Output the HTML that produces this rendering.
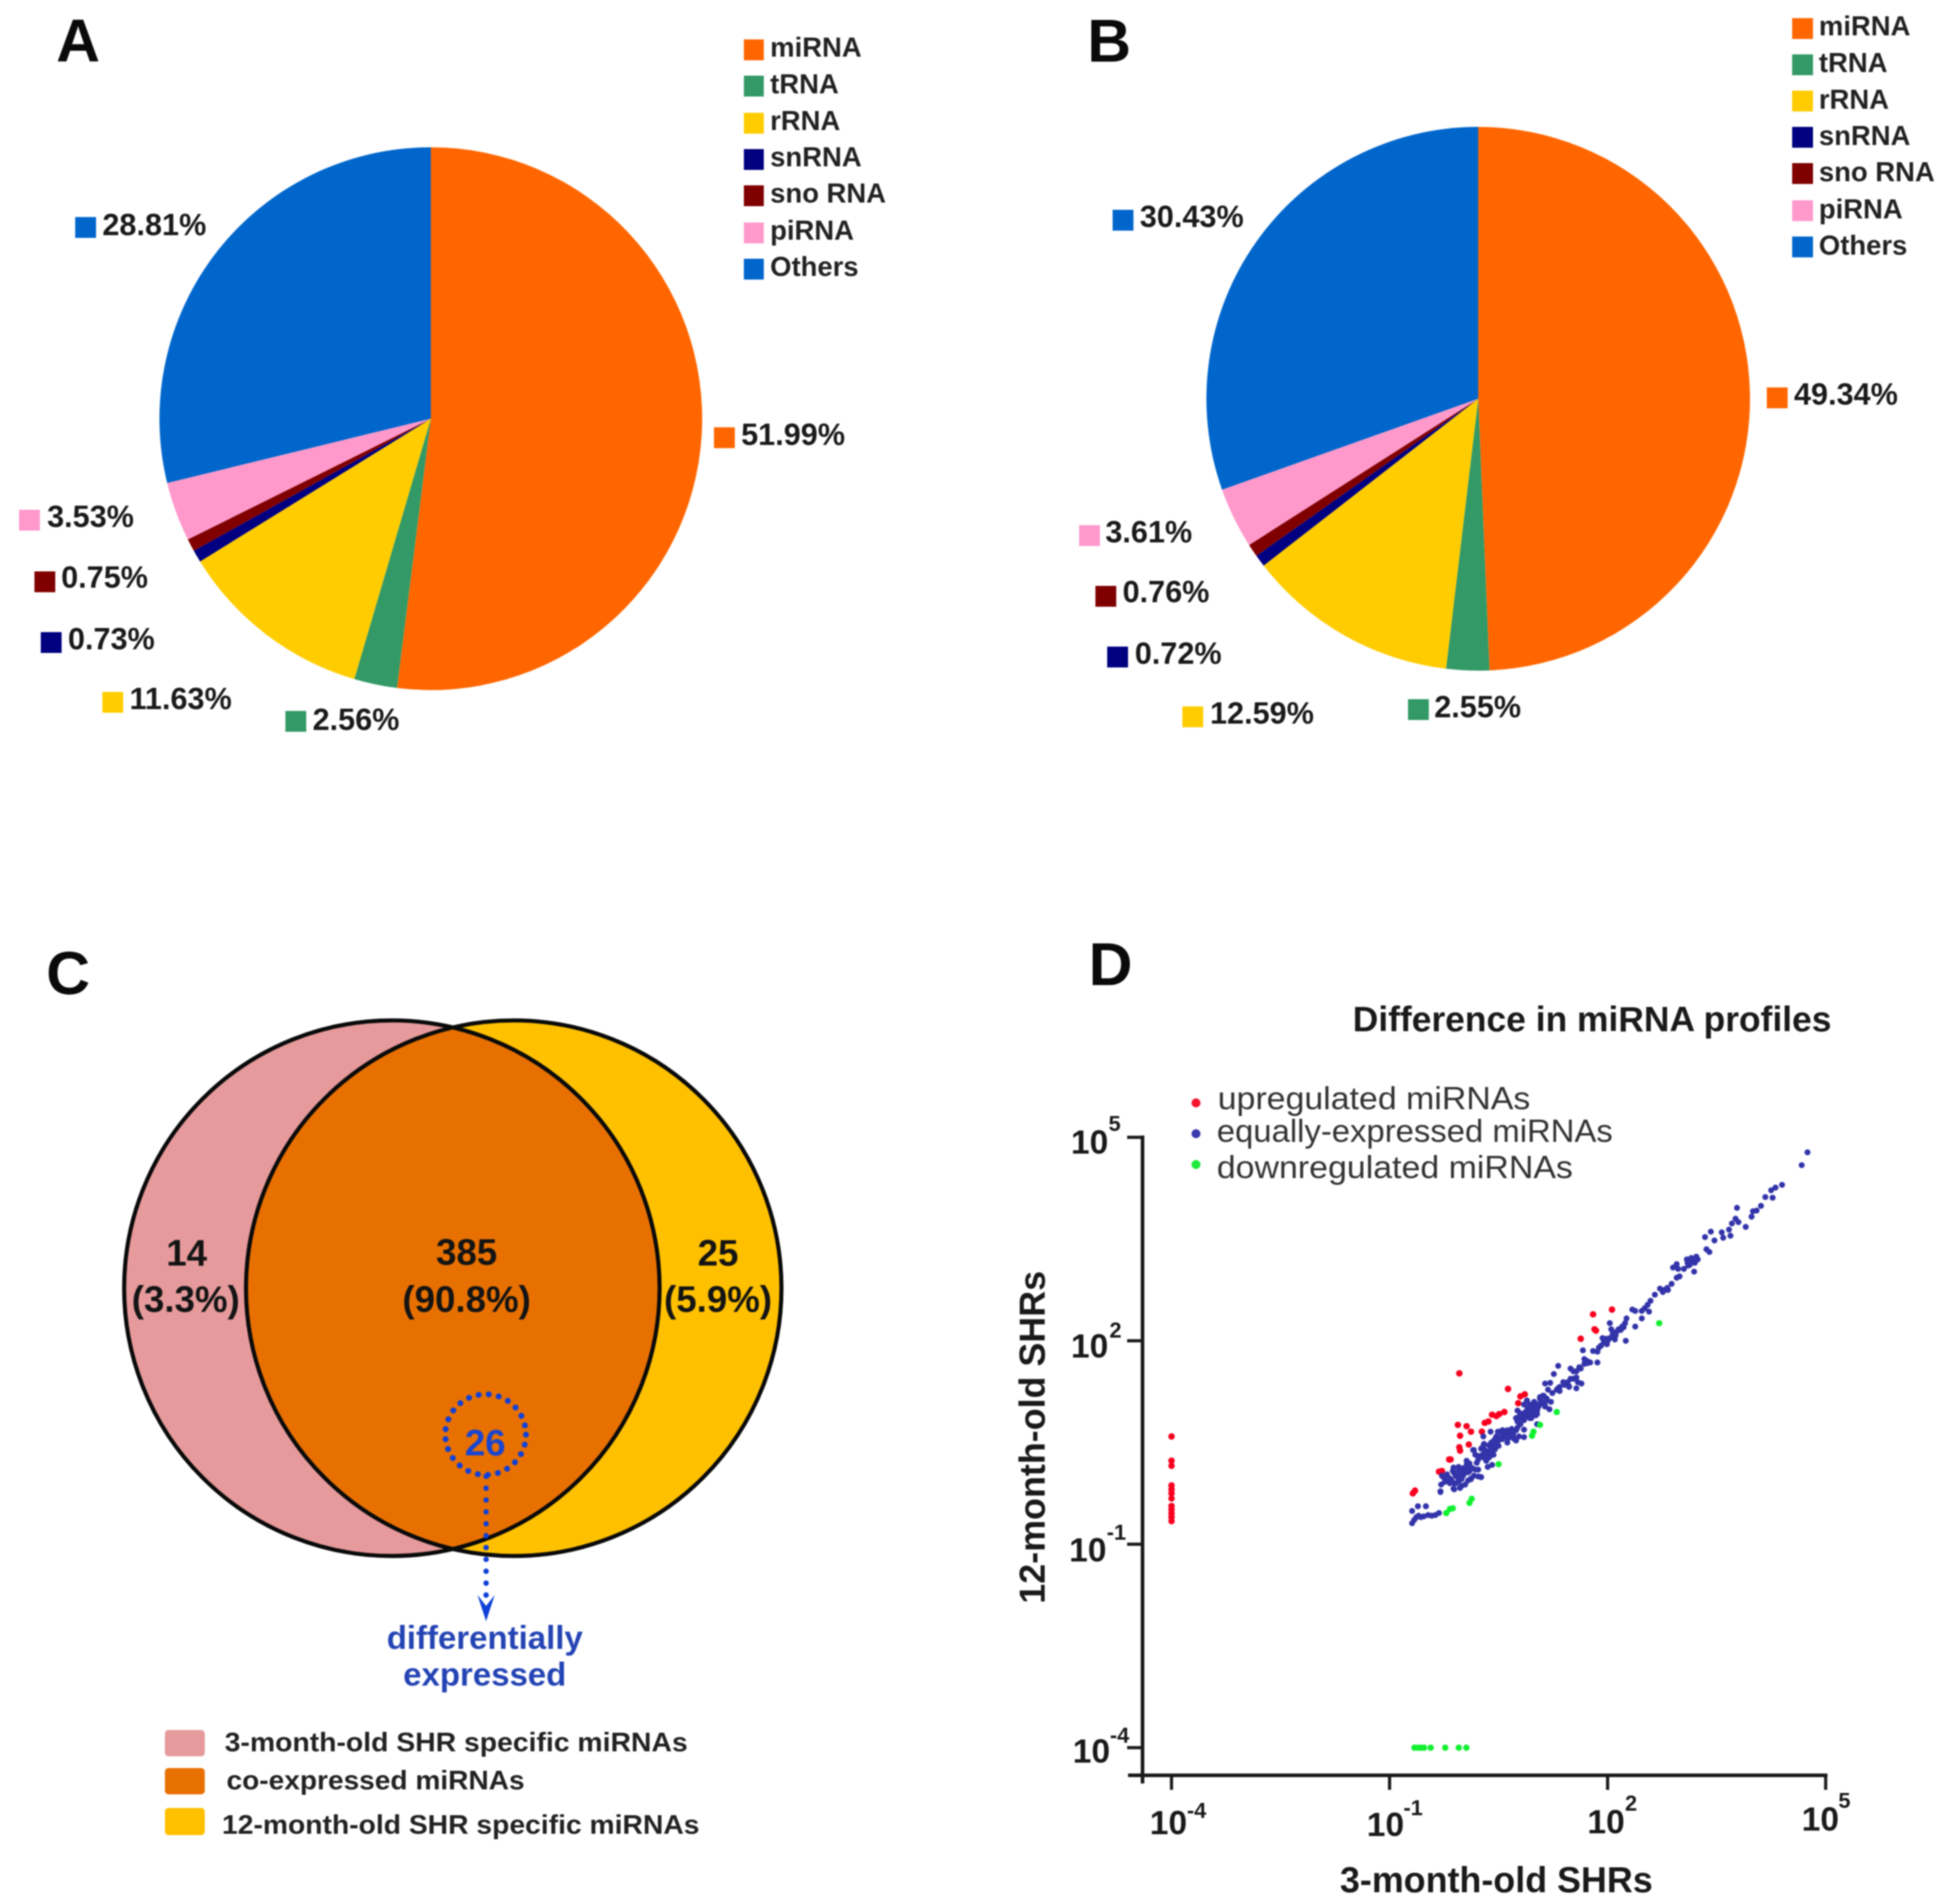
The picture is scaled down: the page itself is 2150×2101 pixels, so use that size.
<!DOCTYPE html>
<html lang="en">
<head>
<meta charset="utf-8">
<title>Small RNA distribution and miRNA profiles</title>
<style>
html,body{margin:0;padding:0;background:#fff;width:2150px;height:2101px;overflow:hidden}
svg{display:block;font-family:"Liberation Sans",sans-serif;filter:blur(0.9px)}
.letter{font-size:67px;font-weight:bold;fill:#0a0a0a}
.leg{font-size:30.3px;font-weight:bold;fill:#222}
.pct{font-size:33.8px;font-weight:bold;fill:#1a1a1a}
.venn{font-size:40.5px;font-weight:bold;fill:#141414;text-anchor:middle}
.vleg{font-size:30px;font-weight:bold;fill:#222}
.blue{font-size:36.4px;font-weight:bold;fill:#2444b4;text-anchor:middle}
.dleg{font-size:35px;fill:#333}
.atitle{font-size:39.6px;font-weight:bold;fill:#1a1a1a}
.tick{font-size:37px;font-weight:bold;fill:#1a1a1a}
.sup{font-size:24px;font-weight:bold;fill:#1a1a1a}
</style>
</head>
<body>
<svg id="figure" xmlns="http://www.w3.org/2000/svg" width="2150" height="2101" viewBox="0 0 2150 2101">
<rect width="2150" height="2101" fill="#fff"/>

<!-- Panel A -->
<text class="letter" x="62" y="68">A</text>
<g id="pieA"></g>
<g>
<rect x="821" y="43.5" width="22" height="23" fill="#FF6600"/><text class="leg" x="850" y="62.5">miRNA</text>
<rect x="821" y="83.5" width="22" height="23" fill="#339966"/><text class="leg" x="850" y="103">tRNA</text>
<rect x="821" y="124.5" width="22" height="23" fill="#FFCC00"/><text class="leg" x="850" y="143.5">rRNA</text>
<rect x="821" y="164.5" width="22" height="23" fill="#000080"/><text class="leg" x="850" y="183.5">snRNA</text>
<rect x="821" y="204.5" width="22" height="23" fill="#800000"/><text class="leg" x="850" y="223.5">sno RNA</text>
<rect x="821" y="245.5" width="22" height="23" fill="#FF99CC"/><text class="leg" x="850" y="264.5">piRNA</text>
<rect x="821" y="285.5" width="22" height="23" fill="#0066CC"/><text class="leg" x="850" y="304.5">Others</text>
</g>
<g>
<rect x="83" y="239.5" width="23" height="23" fill="#0066CC"/><text class="pct" x="113" y="259.5">28.81%</text>
<rect x="788" y="471.5" width="23" height="23" fill="#FF6600"/><text class="pct" x="818" y="491">51.99%</text>
<rect x="21" y="562.5" width="23" height="23" fill="#FF99CC"/><text class="pct" x="52" y="581.5">3.53%</text>
<rect x="38" y="630.5" width="23" height="23" fill="#800000"/><text class="pct" x="67.5" y="648.5">0.75%</text>
<rect x="45" y="697.5" width="23" height="23" fill="#000080"/><text class="pct" x="75" y="716.5">0.73%</text>
<rect x="113" y="763.5" width="23" height="23" fill="#FFCC00"/><text class="pct" x="143" y="782.5">11.63%</text>
<rect x="315" y="784.5" width="23" height="23" fill="#339966"/><text class="pct" x="345" y="805.5">2.56%</text>
</g>

<!-- Panel B -->
<text class="letter" x="1200" y="68">B</text>
<g id="pieB"></g>
<g>
<rect x="1978" y="20" width="23" height="23" fill="#FF6600"/><text class="leg" x="2007.5" y="39">miRNA</text>
<rect x="1978" y="60" width="23" height="23" fill="#339966"/><text class="leg" x="2007.5" y="79.5">tRNA</text>
<rect x="1978" y="100" width="23" height="23" fill="#FFCC00"/><text class="leg" x="2007.5" y="120">rRNA</text>
<rect x="1978" y="140" width="23" height="23" fill="#000080"/><text class="leg" x="2007.5" y="160">snRNA</text>
<rect x="1978" y="180" width="23" height="23" fill="#800000"/><text class="leg" x="2007.5" y="200">sno RNA</text>
<rect x="1978" y="221" width="23" height="23" fill="#FF99CC"/><text class="leg" x="2007.5" y="241">piRNA</text>
<rect x="1978" y="261" width="23" height="23" fill="#0066CC"/><text class="leg" x="2007.5" y="281">Others</text>
</g>
<g>
<rect x="1228" y="231.5" width="23" height="23" fill="#0066CC"/><text class="pct" x="1258" y="250.5">30.43%</text>
<rect x="1950" y="427.5" width="23" height="23" fill="#FF6600"/><text class="pct" x="1980" y="446.5">49.34%</text>
<rect x="1191" y="579.5" width="23" height="23" fill="#FF99CC"/><text class="pct" x="1220" y="598.5">3.61%</text>
<rect x="1209" y="646.5" width="23" height="23" fill="#800000"/><text class="pct" x="1239" y="664.5">0.76%</text>
<rect x="1222" y="713.5" width="23" height="23" fill="#000080"/><text class="pct" x="1252.5" y="732.5">0.72%</text>
<rect x="1305" y="779.5" width="23" height="23" fill="#FFCC00"/><text class="pct" x="1335.5" y="798.5">12.59%</text>
<rect x="1554" y="771.5" width="23" height="23" fill="#339966"/><text class="pct" x="1583" y="791.5">2.55%</text>
</g>

<!-- Panel C -->
<text class="letter" x="51" y="1097">C</text>
<defs>
<clipPath id="clipLeft"><circle cx="432.5" cy="1421.5" r="295.5"/></clipPath>
</defs>
<g>
<circle cx="432.5" cy="1421.5" r="295.5" fill="#E69A9B"/>
<circle cx="567" cy="1421.5" r="295.5" fill="#FFC000"/>
<circle cx="567" cy="1421.5" r="295.5" fill="#E87000" clip-path="url(#clipLeft)"/>
<circle cx="432.5" cy="1421.5" r="295.5" fill="none" stroke="#0a0a0a" stroke-width="4.5"/>
<circle cx="567" cy="1421.5" r="295.5" fill="none" stroke="#0a0a0a" stroke-width="4.5"/>
<text class="venn" x="206" y="1396.5">14</text>
<text class="venn" x="205" y="1447.5">(3.3%)</text>
<text class="venn" x="515" y="1395.5">385</text>
<text class="venn" x="515" y="1447.5">(90.8%)</text>
<text class="venn" x="792.5" y="1396.5">25</text>
<text class="venn" x="792.5" y="1447.5">(5.9%)</text>
<circle cx="536" cy="1583" r="44.5" fill="none" stroke="#1040d8" stroke-width="6.5" stroke-linecap="round" stroke-dasharray="0.1 11.1"/>
<text class="venn" x="535.5" y="1606" style="fill:#1a45d0">26</text>
<line x1="536.5" y1="1629" x2="536.5" y2="1764" stroke="#1040d8" stroke-width="6" stroke-linecap="round" stroke-dasharray="0.1 13"/>
<path d="M527,1760 L536.5,1789 L546,1760 L536.5,1772 Z" fill="#1040d8"/>
<text class="blue" x="535" y="1819.5">differentially</text>
<text class="blue" x="535" y="1860">expressed</text>
</g>
<g>
<rect x="182" y="1909" width="44" height="29" rx="4" fill="#E69A9B"/>
<text class="vleg" x="248" y="1932.5" textLength="511" lengthAdjust="spacingAndGlyphs">3-month-old SHR specific miRNAs</text>
<rect x="182" y="1951" width="44" height="29" rx="4" fill="#E87000"/>
<text class="vleg" x="250" y="1974.5" textLength="329" lengthAdjust="spacingAndGlyphs">co-expressed miRNAs</text>
<rect x="182" y="1995" width="44" height="30" rx="4" fill="#FFC000"/>
<text class="vleg" x="245" y="2023.5" textLength="527" lengthAdjust="spacingAndGlyphs">12-month-old SHR specific miRNAs</text>
</g>

<!-- Panel D -->
<text class="letter" x="1201.5" y="1087">D</text>
<text x="1493" y="1138" font-size="39.1" font-weight="bold" fill="#1a1a1a">Difference in miRNA profiles</text>
<g>
<circle cx="1320" cy="1217" r="5" fill="#f5142d"/>
<text class="dleg" x="1344" y="1224" textLength="345" lengthAdjust="spacingAndGlyphs">upregulated miRNAs</text>
<circle cx="1320" cy="1251" r="5" fill="#3a3ab0"/>
<text class="dleg" x="1343" y="1260" textLength="437" lengthAdjust="spacingAndGlyphs">equally-expressed miRNAs</text>
<circle cx="1320" cy="1285" r="5" fill="#1ee83c"/>
<text class="dleg" x="1343" y="1300" textLength="393" lengthAdjust="spacingAndGlyphs">downregulated miRNAs</text>
</g>
<g id="axes"></g>
<g>
<text class="tick" x="1182" y="1273">10</text><text class="sup" x="1223.5" y="1248">5</text>
<text class="tick" x="1182" y="1498">10</text><text class="sup" x="1224.5" y="1476">2</text>
<text class="tick" x="1180" y="1723">10</text><text class="sup" x="1221.5" y="1699">-1</text>
<text class="tick" x="1184" y="1945">10</text><text class="sup" x="1225" y="1923">-4</text>
</g>
<g>
<text class="tick" x="1269" y="2024">10</text><text class="sup" x="1310" y="2006">-4</text>
<text class="tick" x="1508.5" y="2026">10</text><text class="sup" x="1549" y="2003">-1</text>
<text class="tick" x="1752" y="2023">10</text><text class="sup" x="1793.5" y="1998">2</text>
<text class="tick" x="1988.5" y="2020">10</text><text class="sup" x="2029" y="1995">5</text>
</g>
<g id="points"></g>
<text class="atitle" transform="translate(1153,1586) rotate(-90)" text-anchor="middle">12-month-old SHRs</text>
<text class="atitle" x="1651.5" y="2088" text-anchor="middle">3-month-old SHRs</text>
</svg>

<script>
// Pie data (percent)
const pieCategories = ['miRNA','tRNA','rRNA','snRNA','sno RNA','piRNA','Others'];
const pieAValues = [51.99,2.56,11.63,0.73,0.75,3.53,28.81];
const pieBValues = [49.34,2.55,12.59,0.72,0.76,3.61,30.43];
const pieColors = ['#FF6600','#339966','#FFCC00','#000080','#800000','#FF99CC','#0066CC'];

// Scatter tick exponents
const xTickExponents = [-4,-1,2,5];
const yTickExponents = [5,2,-1,-4];

// Scatter data, log10 of normalised expression
const upX = [-4,-4,-4,-4,-4,-4,-4,-4,-4,-4,-4,-4,-.68,-.65,-.32,-.28,-.18,-.16,-.06,.06,.12,-.03,.09,-.04,-.03,-.04,.27,.31,.36,.41,.47,.51,.58,.63,.8,.86,.77,1.63,1.8,2.06,1.82,1.84];
const upY = [.589,.232,.156,-.133,-.191,-.249,-.325,-.436,-.49,-.548,-.601,-.659,-.25,-.21,.07,.08,.25,.25,.76,.74,.66,.6,.47,.43,.38,1.52,.66,.79,.81,.91,.89,.92,.95,1.29,1.18,1.21,1.08,2.03,2.39,2.46,2.17,2.15];
const downX = [2.71,1.3,1.07,.98,.96,.5,.13,.1,-.13,-.17,-.22,-.658,-.608,-.567,-.525,-.434,-.234,-.047,.057];
const downY = [2.26,.95,.76,.66,.6,.18,-.33,-.39,-.47,-.48,-.54,-4,-4,-4,-4,-4,-4,-4,-4];
const equalX = [-.69,-.66,-.63,-.6,-.57,-.53,-.47,-.42,-.37,-.32,-.69,-.61,-.5,
-.3,-.29,-.24,-.28,-.21,-.17,-.12,-.09,-.07,-.11,-.12,-.05,-.03,-.01,.04,-.03,.06,.06,.04,.1,.14,.16,.12,.22,.26,.02,.08,.15,.18,.24,.29,.22,.35,.41,.33,.37,.41,.43,.35,.31,.29,.39,.45,.49,.43,.39,.29,.53,.47,.58,.62,.56,.62,.66,.7,.74,.85,.85,.74,.68,
-.2,-.15,-.05,0,.1,.2,.3,.36,.45,.5,.55,.6,.7,.55,.4,
.76,.8,.85,.89,.93,.97,1.01,.91,.95,1.01,1.05,1.1,1.14,1.07,1.12,1.16,1.2,1.03,.74,.76,.85,.89,.93,.99,
.8,.87,.95,1.03,1.08,1,.9,1.12,
1.18,1.24,1.3,1.34,1.39,1.45,1.49,1.53,1.57,1.61,1.68,1.72,1.68,1.76,1.86,1.57,1.64,1.57,1.47,1.34,1.14,1.21,1.26,1.32,1.66,1.49,
1.8,1.86,1.91,1.95,1.99,2.03,2.07,1.93,2.11,2.15,2.2,2.24,2.26,2.03,2.05,2.25,2.38,2.34,2.38,2.47,2.47,2.57,2.51,
2.55,2.59,2.65,2.72,2.78,2.83,2.88,2.95,2.99,2.9,2.97,2.95,3.05,3.11,3.09,3.15,3.22,3.24,3.2,3.19,
3.34,3.42,3.47,3.36,3.4,3.57,3.59,3.67,3.69,3.71,3.76,3.78,3.8,3.9,3.98,4,4.05,4.11,4.17,4.27,4.25,4.31,4.4,4.67,4.75,
-.13,-.09,-.05,.01,.06,.1,.14,.18,.01,.08,-.05,-.11,-.01,-.17,-.21,-.26,-.3,-.11,-.03,.08,.12,.26,.22,
.16,.22,.28,.33,.37,.41,.43,.26,.3,.37,.45,.49,.55,.62,.68,.57,.64,.72,.78,.76,.8,.82,.89,.93,.97,1.01,1.05,1.09,1.14,1.03,.95,.87,.78,1.11,1.16,1.22,1.07,1.32,1.41,1.47,1.53,1.59,1.63,1.72,
2,2.08,2.12,2.18,2.22,1.88,1.98,2.1,3.1,3.17,3.13,2.82,2.76];
const equalY = [-.69,-.64,-.6,-.58,-.6,-.59,-.57,-.58,-.57,-.54,-.51,-.44,-.44,
-.23,-.12,-.08,.01,-.01,-.1,-.18,-.1,-.01,.05,.13,.14,.05,-.04,-.12,-.16,.14,.23,.08,.08,.12,.01,-.04,0,-.01,.03,.17,.39,.32,.3,.28,.25,.14,.17,.23,.28,.32,.39,.34,.39,.45,.43,.45,.52,.52,.66,.59,.57,.59,.61,.5,.68,.68,.63,.57,.53,.58,.69,.68,.7,
-.06,-.05,-.07,.1,.18,.2,.33,.36,.4,.45,.55,.58,.62,.62,.5,
.81,.86,.83,.88,.86,.92,.9,.94,.99,1.01,1.03,1.08,1.03,1.15,1.19,1.12,.99,.77,.86,.97,1.06,1.12,1.06,1.1,
.93,.95,.93,.97,1.12,1.05,1,1.07,
1.28,1.23,1.28,1.32,1.39,1.39,1.44,1.55,1.55,1.61,1.66,1.7,1.73,1.68,1.68,1.46,1.37,1.3,1.32,1.26,1.37,1.38,1.51,1.63,1.86,1.59,
1.85,1.84,1.93,1.99,1.95,2.04,2.1,2.04,2.08,2.17,2.21,2.26,2.33,2.26,2.17,2,2.21,2.46,2.44,2.44,2.33,2.43,2.48,
2.53,2.59,2.68,2.77,2.75,2.75,2.84,2.93,2.95,3.08,3.06,3.13,3.06,3.11,3.2,3.22,3.24,3.2,3.15,3.02,
3.53,3.61,3.48,3.35,3.31,3.6,3.52,3.64,3.55,3.73,3.8,3.96,3.75,3.68,3.83,3.91,3.92,3.99,4.12,4.11,4.22,4.26,4.3,4.59,4.78,
.08,.01,.08,.12,.17,.19,.12,.1,.01,.06,-.03,-.1,-.14,-.03,.03,-.01,-.22,-.19,-.17,-.06,-.03,-.01,.1,
.39,.3,.32,.37,.35,.41,.32,.41,.48,.46,.55,.66,.68,.66,.68,.59,.57,.55,.59,.72,.77,.86,.88,.92,.97,1.01,1.06,1.08,1.04,.92,.86,.92,.88,1.19,1.15,1.1,1.17,1.3,1.35,1.33,1.44,1.39,1.59,1.67,
2,2.05,2.13,2.16,2.2,1.9,2.03,2.02,3.15,3.18,3.12,2.78,2.72];

const NS = 'http://www.w3.org/2000/svg';
function make(tag, attrs, parent){
  const el = document.createElementNS(NS, tag);
  for (const k in attrs) el.setAttribute(k, attrs[k]);
  parent.appendChild(el);
  return el;
}

// Pies: clockwise from 12 o'clock
function drawPie(group, values, cx, cy, r){
  const total = values.reduce((a,b)=>a+b,0);
  let start = 0;
  values.forEach((v,i)=>{
    const end = start + v/total;
    const a0 = start*2*Math.PI - Math.PI/2;
    const a1 = end*2*Math.PI - Math.PI/2;
    const large = (end-start) > 0.5 ? 1 : 0;
    const d = 'M'+cx+','+cy+' L'+(cx+r*Math.cos(a0))+','+(cy+r*Math.sin(a0))+
      ' A'+r+','+r+' 0 '+large+' 1 '+(cx+r*Math.cos(a1))+','+(cy+r*Math.sin(a1))+' Z';
    const el = make('path',{d:d,fill:pieColors[i]},group);
    
    
    start = end;
  });
}
drawPie(document.getElementById('pieA'), pieAValues, 475.5, 462, 299.5);
drawPie(document.getElementById('pieB'), pieBValues, 1631.5, 440, 300);

// Log axes (values are log10 exponents)
const xScale = e => 1293 + (e + 4) * 80.22;
const yScale = e => 1928.5 - (e + 4) * 74.83;
const axes = document.getElementById('axes');
const axisColor = '#1a1a1a';

const yAxisLine = make('line',{x1:1261,y1:yScale(5)-2,x2:1261,y2:1968,stroke:axisColor,'stroke-width':4},axes);


const xAxisLine = make('line',{x1:1245,y1:1959,x2:xScale(5)+2,y2:1959,stroke:axisColor,'stroke-width':4},axes);



xTickExponents.forEach(e=>{
  const x = xScale(e);
  const t = make('line',{x1:x,y1:1959,x2:x,y2:1975,stroke:axisColor,'stroke-width':3.5},axes);
  
  
});
yTickExponents.forEach(e=>{
  const y = yScale(e);
  const t = make('line',{x1:1244,y1:y,x2:1261,y2:y,stroke:axisColor,'stroke-width':3.5},axes);
  
  
});

// Points
const points = document.getElementById('points');
upX.forEach((v,i)=>{
  const p = make('circle',{cx:xScale(v),cy:yScale(upY[i]),r:3.6,fill:'#f8001e'},points);
  
  
});
equalX.forEach((v,i)=>{
  const p = make('circle',{cx:xScale(v),cy:yScale(equalY[i]),r:3.3,fill:'#3333aa'},points);
  
  
});
downX.forEach((v,i)=>{
  const p = make('circle',{cx:xScale(v),cy:yScale(downY[i]),r:3.5,fill:'#10f030'},points);
  
  
});
</script>
</body>
</html>
